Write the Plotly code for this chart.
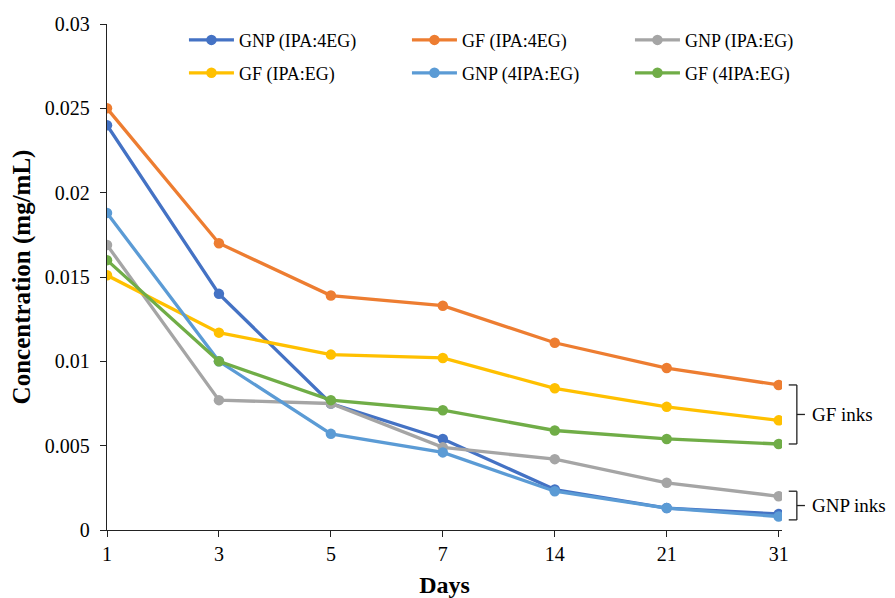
import plotly.graph_objects as go

days = ["1", "3", "5", "7", "14", "21", "31"]
series_names = ["GNP (IPA:4EG)", "GF (IPA:4EG)", "GNP (IPA:EG)",
                "GF (IPA:EG)", "GNP (4IPA:EG)", "GF (4IPA:EG)"]
gnp_ipa_4eg = [0.0240, 0.0140, 0.0075, 0.0054, 0.0024, 0.0013, 0.00095]
gf_ipa_4eg = [0.0250, 0.0170, 0.0139, 0.0133, 0.0111, 0.0096, 0.0086]
gnp_ipa_eg = [0.0169, 0.0077, 0.0075, 0.0049, 0.0042, 0.0028, 0.0020]
gf_ipa_eg = [0.0151, 0.0117, 0.0104, 0.0102, 0.0084, 0.0073, 0.0065]
gnp_4ipa_eg = [0.0188, 0.0100, 0.0057, 0.0046, 0.0023, 0.0013, 0.0008]
gf_4ipa_eg = [0.0160, 0.0100, 0.0077, 0.0071, 0.0059, 0.0054, 0.0051]
colors = ["#4472C4", "#ED7D31", "#A5A5A5", "#FFC000", "#5B9BD5", "#70AD47"]
y_ticks = [0, 0.005, 0.01, 0.015, 0.02, 0.025, 0.03]
y_tick_labels = ["0", "0.005", "0.01", "0.015", "0.02", "0.025", "0.03"]

all_series = [gnp_ipa_4eg, gf_ipa_4eg, gnp_ipa_eg, gf_ipa_eg, gnp_4ipa_eg, gf_4ipa_eg]

FONT = "Liberation Serif"

fig = go.Figure()
for i, (name, vals, c) in enumerate(zip(series_names, all_series, colors)):
    fig.add_trace(go.Scatter(
        x=days, y=vals, name=name, mode="lines+markers",
        line=dict(color=c, width=3.3),
        marker=dict(color=c, size=10.5),
        legend="legend" if i < 3 else "legend2",
    ))

bracket_x = 1.022
tick_len = 0.012
line_style = dict(color="#222222", width=1.3)


def bracket(y_top, y_bot):
    ym = (y_top + y_bot) / 2
    fig.add_shape(type="line", xref="paper", yref="y", x0=bracket_x, x1=bracket_x,
                  y0=y_bot, y1=y_top, line=line_style)
    fig.add_shape(type="line", xref="paper", yref="y", x0=bracket_x - tick_len, x1=bracket_x,
                  y0=y_top, y1=y_top, line=line_style)
    fig.add_shape(type="line", xref="paper", yref="y", x0=bracket_x - tick_len, x1=bracket_x,
                  y0=y_bot, y1=y_bot, line=line_style)
    fig.add_shape(type="line", xref="paper", yref="y", x0=bracket_x, x1=bracket_x + tick_len,
                  y0=ym, y1=ym, line=line_style)
    return ym


ym1 = bracket(gf_ipa_4eg[-1], gf_4ipa_eg[-1])
ym2 = bracket(gnp_ipa_eg[-1] + 0.0003, gnp_4ipa_eg[-1] - 0.0002)
fig.add_annotation(text="GF inks", xref="paper", yref="y", x=bracket_x + 0.02, y=ym1,
                   xanchor="left", yanchor="middle", showarrow=False,
                   font=dict(family=FONT, size=19, color="black"))
fig.add_annotation(text="GNP inks", xref="paper", yref="y", x=bracket_x + 0.02, y=ym2,
                   xanchor="left", yanchor="middle", showarrow=False,
                   font=dict(family=FONT, size=19, color="black"))

legend_common = dict(orientation="h", xanchor="left", yanchor="middle",
                     entrywidth=163, entrywidthmode="pixels", traceorder="normal",
                     font=dict(family=FONT, size=18, color="black"),
                     bgcolor="rgba(0,0,0,0)", itemwidth=45)

fig.update_layout(
    width=887, height=590,
    margin=dict(l=99, r=113, t=16, b=68),
    paper_bgcolor="white", plot_bgcolor="white",
    font=dict(family=FONT, size=18, color="black"),
    showlegend=True,
    legend=dict(x=0.114, y=0.968, **legend_common),
    legend2=dict(x=0.114, y=0.903, **legend_common),
    xaxis=dict(type="category", range=[0, 6.03], showgrid=False, showline=True,
               linecolor="#222222", linewidth=1.3, ticks="outside", ticklen=6,
               tickcolor="#222222", tickwidth=1.3, automargin=False,
               title=dict(text="<b>Days</b>", font=dict(family=FONT, size=24), standoff=14),
               tickfont=dict(family=FONT, size=20), zeroline=False),
    yaxis=dict(range=[0, 0.03], showgrid=False, showline=True, linecolor="#222222",
               linewidth=1.3, ticks="outside", ticklen=6, tickcolor="#222222", tickwidth=1.3,
               tickvals=y_ticks, ticktext=y_tick_labels, zeroline=False, automargin=False,
               ticklabelstandoff=6,
               title=dict(text="<b>Concentration (mg/mL)</b>", font=dict(family=FONT, size=25),
                          standoff=10),
               tickfont=dict(family=FONT, size=20)),
)

fig.write_html("out.html")
